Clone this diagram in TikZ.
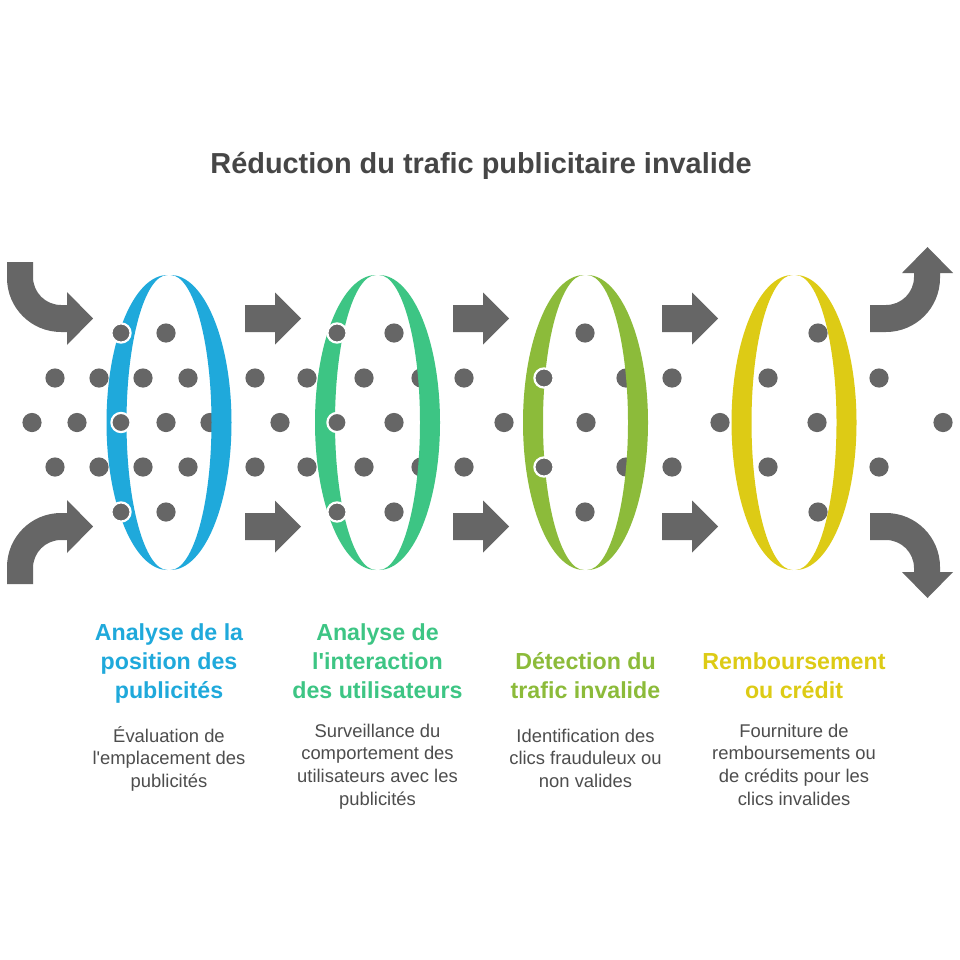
\documentclass[tikz,border=0pt]{standalone}
\usepackage{fontspec}
\setmainfont{Liberation Sans}
\definecolor{dotgray}{HTML}{666666}
\definecolor{titlegray}{HTML}{464646}
\definecolor{descgray}{HTML}{4D4D4D}
\definecolor{cblue}{HTML}{1FA9DB}
\definecolor{cgreen}{HTML}{3DC584}
\definecolor{clime}{HTML}{8CBB3A}
\definecolor{cyellow}{HTML}{DDCB15}
\newcommand{\ringshape}[2]{%
  \fill[#2] (#1-1.5,275) arc[start angle=270, end angle=90, x radius=61, y radius=147.5]
      arc[start angle=90, end angle=270, x radius=41, y radius=147.5] -- cycle;
  \fill[#2] (#1+1.5,275) arc[start angle=270, end angle=450, x radius=61, y radius=147.5]
      arc[start angle=90, end angle=-90, x radius=41, y radius=147.5] -- cycle;
}
\newcommand{\straightarrow}[2]{%
  \fill[dotgray] (#1,#2-13.5) -- (#1+30,#2-13.5) -- (#1+30,#2-26) -- (#1+56,#2)
     -- (#1+30,#2+26) -- (#1+30,#2+13.5) -- (#1,#2+13.5) -- cycle;
}
\begin{document}
\begin{tikzpicture}[x=1pt,y=-1pt,
  coltitle/.style={anchor=base, inner sep=0pt, font=\bfseries},
  coldesc/.style={anchor=base, inner sep=0pt, text=descgray}]
\useasboundingbox[fill=white] (0,0) rectangle (960,960);

% title
\node[anchor=base, inner sep=0pt, text=titlegray, font=\bfseries\fontsize{28.9}{34}\selectfont]
  (title) at (481,174) {Réduction du trafic publicitaire invalide};

% background dots
\foreach \px/\py in {
  166/333, 55/378, 99/378, 143/378, 188/378, 32/422.5, 77/422.5, 166/422.5, 210/422.5,
  55/467, 99/467, 143/467, 188/467, 166/512,
  394/333, 255/378, 307/378, 364/378, 421/378, 280/422.5, 394/422.5,
  255/467, 307/467, 364/467, 421/467, 394/512,
  585/333, 464/378, 626/378, 672/378, 504/422.5, 586/422.5,
  464/467, 626/467, 672/467, 585/512,
  818/333, 768/378, 879/378, 720/422.5, 817/422.5, 943/422.5,
  768/467, 879/467, 818/512}
  \fill[dotgray] (\px,\py) circle (9.6pt);

% rings
\ringshape{169}{cblue}
\ringshape{377.5}{cgreen}
\ringshape{585.5}{clime}
\ringshape{794}{cyellow}

% front dots
\foreach \px/\py in {121/333, 121/422.5, 121/512, 337/333, 337/422.5, 337/512, 544/378, 544/467}
  \filldraw[fill=dotgray, draw=white, line width=2.2pt] (\px,\py) circle (9.6pt);

% straight arrows
\straightarrow{245}{318.5}
\straightarrow{245}{526.5}
\straightarrow{453}{318.5}
\straightarrow{453}{526.5}
\straightarrow{662}{318.5}
\straightarrow{662}{526.5}

% curved arrows, left
\fill[dotgray] (7,262) -- (7,278) arc[start angle=180, end angle=90, radius=54]
  -- (67,332) -- (67,345) -- (93,318.5) -- (67,292) -- (67,305) -- (61,305)
  arc[start angle=90, end angle=180, radius=28] -- (33,262) -- cycle;
\fill[dotgray] (7,584) -- (7,567) arc[start angle=180, end angle=270, radius=54]
  -- (67,513) -- (67,500) -- (93,526.5) -- (67,553) -- (67,540) -- (61,540)
  arc[start angle=270, end angle=180, radius=28] -- (33,584) -- cycle;
% curved arrows, right
\fill[dotgray] (870,332) -- (886,332) arc[start angle=90, end angle=0, radius=54]
  -- (940,273) -- (953,273) -- (927.5,247) -- (902,273) -- (914,273) -- (914,277)
  arc[start angle=0, end angle=90, radius=28] -- (870,305) -- cycle;
\fill[dotgray] (870,513) -- (886,513) arc[start angle=270, end angle=360, radius=54]
  -- (940,572) -- (953,572) -- (927.5,598) -- (902,572) -- (914,572) -- (914,568)
  arc[start angle=360, end angle=270, radius=28] -- (870,540) -- cycle;

% column titles
\node[coltitle, text=cblue] (t1) at (169,640)
  {\parbox[t]{230pt}{\centering\fontsize{23.2}{29}\selectfont Analyse de la\\position des\\publicités}};
\node[coltitle, text=cgreen] (t2) at (377.5,640)
  {\parbox[t]{230pt}{\centering\fontsize{23.2}{29}\selectfont Analyse de\\l\textquotesingle interaction\\des utilisateurs}};
\node[coltitle, text=clime] (t3) at (585.5,669)
  {\parbox[t]{230pt}{\centering\fontsize{23.2}{29}\selectfont Détection du\\trafic invalide}};
\node[coltitle, text=cyellow] (t4) at (794,669)
  {\parbox[t]{230pt}{\centering\fontsize{23.2}{29}\selectfont Remboursement\\ou crédit}};

% descriptions
\node[coldesc] (d1) at (169,742)
  {\parbox[t]{230pt}{\centering\fontsize{18.4}{22.7}\selectfont Évaluation de\\l\textquotesingle emplacement des\\publicités}};
\node[coldesc] (d2) at (377.5,737)
  {\parbox[t]{230pt}{\centering\fontsize{18.4}{22.7}\selectfont Surveillance du\\comportement des\\utilisateurs avec les\\publicités}};
\node[coldesc] (d3) at (585.5,742)
  {\parbox[t]{230pt}{\centering\fontsize{18.4}{22.7}\selectfont Identification des\\clics frauduleux ou\\non valides}};
\node[coldesc] (d4) at (794,737)
  {\parbox[t]{230pt}{\centering\fontsize{18.4}{22.7}\selectfont Fourniture de\\remboursements ou\\de crédits pour les\\clics invalides}};
\end{tikzpicture}
\end{document}
